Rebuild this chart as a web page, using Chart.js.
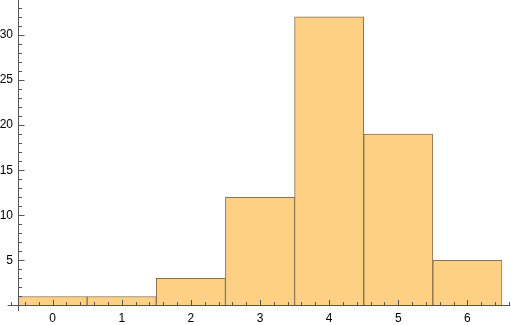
<!DOCTYPE html>
<html>
<head>
<meta charset="utf-8">
<script src="https://cdn.jsdelivr.net/npm/chart.js@4.4.1/dist/chart.umd.min.js"></script>
<style>
  html, body { margin: 0; padding: 0; background: #fff; }
  #wrap { width: 512px; height: 325px; position: relative; }
</style>
</head>
<body>
<div id="wrap"><canvas id="chart"></canvas></div>
<script>
// histogram bins (centres) and counts
const binCentres = [0, 1, 2, 3, 4, 5, 6];
const binCounts = [1, 1, 3, 12, 32, 19, 5];
const xTickLabels = [0, 1, 2, 3, 4, 5, 6];
const yTickLabels = [5, 10, 15, 20, 25, 30];

const axisColor = 'rgb(85,85,85)';

// Mathematica style axes: lines cross at origin, ticks point inward
const frameAxes = {
    id: 'frameAxes',
    afterDatasetsDraw(chart) {
        const ctx = chart.ctx;
        const x = chart.scales.x;
        const y = chart.scales.y;
        const y0 = Math.round(y.getPixelForValue(0)) + 0.5;
        const xLeft = Math.round(x.getPixelForValue(-0.5)) + 0.5;

        ctx.save();
        ctx.strokeStyle = axisColor;
        ctx.lineWidth = 1;

        // axis lines
        ctx.beginPath();
        ctx.moveTo(x.getPixelForValue(-0.65), y0);
        ctx.lineTo(x.getPixelForValue(6.62), y0);
        ctx.moveTo(xLeft, chart.chartArea.top);
        ctx.lineTo(xLeft, chart.chartArea.bottom);
        ctx.stroke();

        // x ticks, minor every 0.2
        ctx.beginPath();
        for (let i = -3; i <= 33; i++) {
            const v = i / 5;
            const px = Math.round(x.getPixelForValue(v)) + 0.5;
            const len = (i % 5 === 0) ? 5.5 : 3.5;
            ctx.moveTo(px, y0);
            ctx.lineTo(px, y0 - len);
        }
        // y ticks, minor every 1
        for (let v = 1; v <= 33; v++) {
            const py = Math.round(y.getPixelForValue(v)) + 0.5;
            const len = (v % 5 === 0) ? 6 : 3.5;
            ctx.moveTo(xLeft, py);
            ctx.lineTo(xLeft + len, py);
        }
        ctx.stroke();
        ctx.restore();
    }
};

const ctx = document.getElementById('chart').getContext('2d');
new Chart(ctx, {
    type: 'bar',
    data: {
        datasets: [{
            data: binCentres.map((c, i) => ({ x: c, y: binCounts[i] })),
            backgroundColor: 'rgb(253,208,131)',
            borderColor: 'rgb(138,112,78)',
            borderWidth: 1,
            borderSkipped: 'bottom',
            barPercentage: 1,
            categoryPercentage: 1
        }]
    },
    options: {
        responsive: true,
        maintainAspectRatio: false,
        animation: false,
        layout: { padding: { top: 0, right: 10, left: 0, bottom: 0 } },
        plugins: {
            legend: { display: false },
            tooltip: { enabled: false }
        },
        scales: {
            x: {
                type: 'linear',
                offset: false,
                min: -0.5,
                max: 6.5,
                grid: { display: false, drawTicks: false, offset: false },
                border: { display: false },
                afterBuildTicks: s => { s.ticks = xTickLabels.map(v => ({ value: v })); },
                afterFit: s => { s.height = 14; s.paddingLeft = 0; s.paddingRight = 0; },
                ticks: {
                    padding: 0,
                    color: '#000',
                    font: { family: 'Liberation Sans', size: 12 },
                    maxRotation: 0
                }
            },
            y: {
                min: -0.61,
                max: 33.87,
                grid: { display: false, drawTicks: false },
                border: { display: false },
                afterBuildTicks: s => { s.ticks = yTickLabels.map(v => ({ value: v })); },
                afterFit: s => { s.width = 18; s.paddingTop = 0; s.paddingBottom = 0; },
                ticks: {
                    padding: 5,
                    color: '#000',
                    font: { family: 'Liberation Sans', size: 12 }
                }
            }
        }
    },
    plugins: [frameAxes]
});
</script>
</body>
</html>
